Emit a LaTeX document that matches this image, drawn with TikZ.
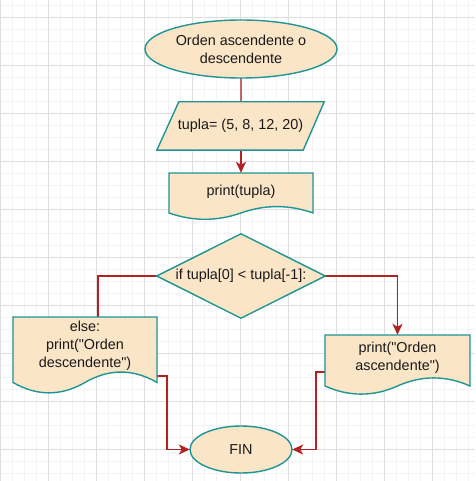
\documentclass[tikz,border=0pt]{standalone}
\usepackage{fontspec}
\setmainfont{Liberation Sans}[Ligatures=TeXOff]
\usetikzlibrary{arrows.meta,calc}
\definecolor{fillc}{HTML}{FAE5C7}
\definecolor{strokec}{HTML}{1F9595}
\definecolor{arrc}{HTML}{B22222}
\definecolor{arrlight}{HTML}{C26565}
\definecolor{txtc}{HTML}{1A1A1A}
\definecolor{gridmajor}{HTML}{DEDEDE}
\definecolor{gridminor}{HTML}{F3F3F3}
\newcommand{\mydocshape}[4]{%
 \pgfmathsetmacro{\mdA}{0.3*#4}%
 \pgfmathsetmacro{\myE}{#2+#4-\mdA/2}%
 \pgfmathsetmacro{\myU}{\myE+2/3*((#2+#4-1.4*\mdA)-\myE)}%
 \pgfmathsetmacro{\myD}{\myE+2/3*((#2+#4+0.4*\mdA)-\myE)}%
 \path[box] (#1,#2) -- ({#1+#3},#2) -- ({#1+#3},\myE)
   .. controls ({#1+5*#3/6},\myU) and ({#1+2*#3/3},\myU) .. ({#1+#3/2},\myE)
   .. controls ({#1+#3/3},\myD) and ({#1+#3/6},\myD) .. (#1,\myE) -- cycle;}
\begin{document}
\begin{tikzpicture}[x=1pt,y=-1pt,
 ph/.style={rectangle,draw=none,inner sep=0pt},
 box/.style={draw=strokec,fill=fillc,line width=1.4pt,line join=miter},
 lbl/.style={text=txtc,font=\fontsize{14.4}{17.8}\selectfont,align=center,inner sep=0pt},
 conn/.style={draw=arrc,line width=1.5pt},
 tip/.style={-{Stealth[length=11pt,width=10pt,inset=3pt]}},
 gmin/.style={draw=gridminor,line width=0.8pt},
 gmaj/.style={draw=gridmajor,line width=0.9pt}]
\useasboundingbox (0,0) rectangle (475,481);
\fill[white] (0,0) rectangle (475,481);
% grid
\foreach \k in {0,...,39} {\draw[gmin] ({0.75+11.985*\k},0) -- ({0.75+11.985*\k},481);}
\foreach \k in {-1,...,39} {\draw[gmin] (0,{17.3+12*\k}) -- (475,{17.3+12*\k});}
\foreach \k in {0,...,9} {\draw[gmaj] ({0.75+47.94*\k},0) -- ({0.75+47.94*\k},481);}
\foreach \k in {0,...,9} {\draw[gmaj] (0,{17.3+48*\k}) -- (475,{17.3+48*\k});}
% placeholders
\node[ph,minimum width=192pt,minimum height=58pt] (start) at (241,49) {};
\node[ph,minimum width=167pt,minimum height=48pt] (para) at (240.5,126) {};
\node[ph,minimum width=144pt,minimum height=47pt] (pdoc) at (241,196.5) {};
\node[ph,minimum width=168pt,minimum height=84pt] (dia) at (241,276) {};
\node[ph,minimum width=144pt,minimum height=77pt] (ldoc) at (85,355.5) {};
\node[ph,minimum width=145pt,minimum height=60pt] (rdoc) at (397.5,365) {};
\node[ph,minimum width=102pt,minimum height=47pt] (fin) at (241,449.5) {};
% connectors
\draw[conn,draw=arrlight] (start.south) -- (start.south |- para.north);
\draw[conn,tip] (pdoc.north |- para.south) -- (pdoc.north);
\draw[conn] (dia.west) -| ($(ldoc.north west)+(85,0)$);
\draw[conn,tip] (dia.east) -| (rdoc.north);
\draw[conn,tip] ($(ldoc.north east)+(0,59)$) -- ++(10,0) |- (fin.west);
\draw[conn,tip] ($(rdoc.north west)+(0,37)$) -- ++(-9,0) |- (fin.east);
% shapes
\path[box] (start.center) ellipse [x radius=96, y radius=29];
\path[box] ($(para.north west)+(22,0)$) -- (para.north east) -- ($(para.south east)+(-21,0)$) -- (para.south west) -- cycle;
\mydocshape{169}{173}{144}{47}
\path[box] (dia.north) -- (dia.east) -- (dia.south) -- (dia.west) -- cycle;
\mydocshape{13}{317}{144}{77}
\mydocshape{325}{335}{145}{60}
\path[box] (fin.center) ellipse [x radius=51, y radius=23.5];
% texts
\node[lbl] (starttext) at (start) {Orden ascendente o\\descendente};
\node[lbl] (paratext) at (para) {tupla= (5, 8, 12, 20)};
\node[lbl] (pdoctext) at (241,192) {print(tupla)};
\node[lbl] (diatext) at (dia) {if tupla[0] < tupla[-1]:};
\node[lbl] (ldoctext) at (85,346) {else:\\print("Orden\\descendente")};
\node[lbl] (rdoctext) at (397.5,358) {print("Orden\\ascendente")};
\node[lbl] (fintext) at (fin) {FIN};
\end{tikzpicture}
\end{document}
